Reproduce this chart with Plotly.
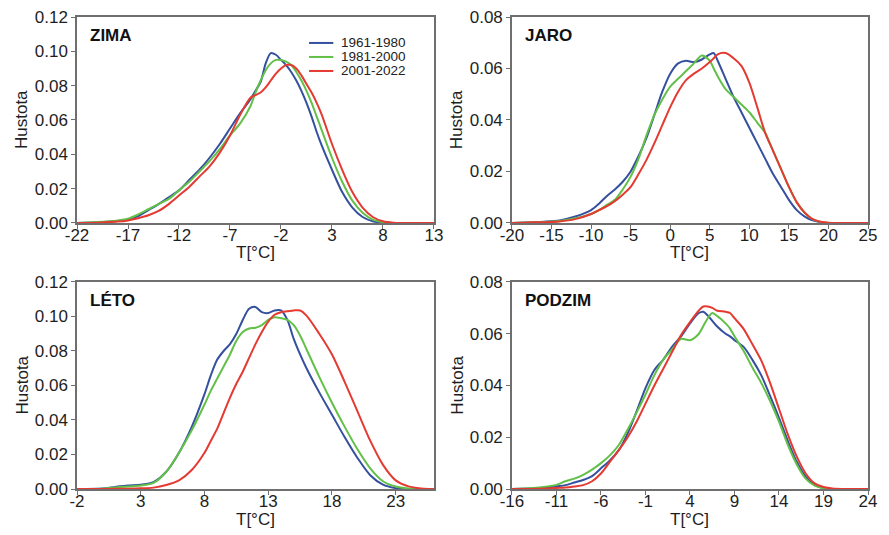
import plotly.graph_objects as go
from plotly.subplots import make_subplots

# ---------------- data ----------------
series_names = ["1961-1980", "1981-2000", "2001-2022"]
series_colors = ["#34509e", "#62c048", "#e43a32"]

# ZIMA (winter)
zima_t = [-22, -20, -18, -17, -16, -15, -14, -13, -12, -11, -10, -9, -8, -7, -6, -5, -4.5, -4,
          -3.5, -3, -2.5, -2, -1.5, -1, -0.5, 0, 0.5, 1, 1.5, 2, 3, 4, 5, 6, 7, 8, 9, 13]
zima_1961 = [0, 0.0004, 0.0012, 0.002, 0.004, 0.0075, 0.011, 0.015, 0.019, 0.025, 0.031, 0.038, 0.046,
             0.055, 0.064, 0.072, 0.077, 0.082, 0.093, 0.099, 0.098, 0.095, 0.092, 0.088, 0.083, 0.077,
             0.070, 0.062, 0.053, 0.045, 0.031, 0.018, 0.009, 0.0035, 0.001, 0.0002, 0, 0]
zima_1981 = [0, 0.0005, 0.0015, 0.0025, 0.005, 0.008, 0.011, 0.014, 0.019, 0.024, 0.030, 0.036, 0.043,
             0.051, 0.058, 0.068, 0.076, 0.083, 0.089, 0.093, 0.095, 0.095, 0.094, 0.092, 0.088, 0.083,
             0.077, 0.070, 0.062, 0.054, 0.038, 0.024, 0.013, 0.006, 0.002, 0.0005, 0, 0]
zima_2001 = [0, 0.0002, 0.0008, 0.0015, 0.0028, 0.0045, 0.007, 0.011, 0.016, 0.021, 0.027, 0.033, 0.041,
             0.051, 0.063, 0.073, 0.0745, 0.076, 0.079, 0.083, 0.087, 0.090, 0.092, 0.092, 0.090, 0.086,
             0.081, 0.076, 0.070, 0.063, 0.046, 0.031, 0.018, 0.009, 0.0035, 0.001, 0.0002, 0]

# JARO (spring)
jaro_t = [-20, -18, -16, -14, -12, -10, -9, -8, -7, -6, -5, -4, -3, -2, -1, 0, 1, 2, 3, 4, 5, 5.5, 6,
          7, 8, 9, 10, 11, 12, 13, 14, 15, 16, 17, 18, 19, 20, 22, 25]
jaro_1961 = [0, 0.0002, 0.0005, 0.001, 0.0025, 0.005, 0.0075, 0.0105, 0.013, 0.016, 0.020, 0.026, 0.033,
             0.042, 0.051, 0.058, 0.062, 0.063, 0.0625, 0.0635, 0.0655, 0.066, 0.063, 0.056, 0.049,
             0.043, 0.037, 0.031, 0.025, 0.019, 0.014, 0.009, 0.005, 0.0025, 0.001, 0.0003, 0, 0, 0]
jaro_1981 = [0, 0.0002, 0.0004, 0.0008, 0.0018, 0.0035, 0.005, 0.007, 0.009, 0.013, 0.018, 0.025, 0.034,
             0.042, 0.048, 0.053, 0.056, 0.059, 0.062, 0.065, 0.063, 0.060, 0.057, 0.052, 0.049, 0.046,
             0.043, 0.039, 0.035, 0.028, 0.021, 0.014, 0.008, 0.004, 0.0015, 0.0004, 0, 0, 0]
jaro_2001 = [0, 0.0002, 0.0003, 0.0006, 0.0015, 0.0035, 0.005, 0.0065, 0.0085, 0.011, 0.014, 0.019, 0.0245,
             0.031, 0.038, 0.045, 0.051, 0.0555, 0.058, 0.060, 0.0625, 0.064, 0.0655, 0.066, 0.064, 0.061,
             0.0545, 0.045, 0.035, 0.028, 0.021, 0.014, 0.008, 0.004, 0.0015, 0.0005, 0.0001, 0, 0]

# LÉTO (summer)
leto_t = [-2, 0, 1, 2, 3, 4, 5, 6, 7, 8, 8.5, 9, 9.5, 10, 10.5, 11, 11.5, 12, 12.5, 13, 13.5, 14, 14.5,
          15, 15.5, 16, 17, 18, 19, 20, 21, 22, 23, 24, 25, 26]
leto_1961 = [0, 0.0003, 0.0012, 0.002, 0.0025, 0.004, 0.010, 0.021, 0.036, 0.055, 0.066, 0.075, 0.080,
             0.084, 0.090, 0.098, 0.1045, 0.1055, 0.1025, 0.102, 0.1035, 0.1035, 0.098, 0.087, 0.078,
             0.070, 0.056, 0.043, 0.030, 0.018, 0.008, 0.0025, 0.0005, 0, 0, 0]
leto_1981 = [0, 0.0002, 0.0008, 0.0015, 0.002, 0.0035, 0.010, 0.021, 0.034, 0.049, 0.057, 0.064, 0.071,
             0.078, 0.086, 0.091, 0.093, 0.0935, 0.095, 0.098, 0.0995, 0.099, 0.098, 0.095, 0.089,
             0.081, 0.065, 0.050, 0.036, 0.023, 0.012, 0.0045, 0.0014, 0.0003, 0, 0]
leto_2001 = [0, 0, 0.0001, 0.0002, 0.0004, 0.0008, 0.0023, 0.005, 0.011, 0.021, 0.028, 0.035, 0.044,
             0.053, 0.061, 0.068, 0.076, 0.084, 0.091, 0.097, 0.101, 0.1025, 0.103, 0.1035, 0.1035,
             0.1005, 0.090, 0.078, 0.062, 0.045, 0.028, 0.014, 0.005, 0.0015, 0.0003, 0]

# PODZIM (autumn)
podzim_t = [-16, -14, -12, -11, -10, -9, -8, -7, -6, -5, -4, -3, -2, -1, 0, 1, 2, 3, 4, 5, 5.5, 6, 6.5,
            7, 8, 8.5, 9, 10, 11, 12, 13, 14, 15, 16, 17, 18, 19, 20, 22, 24]
podzim_1961 = [0, 0.0002, 0.0005, 0.001, 0.0015, 0.0025, 0.0035, 0.005, 0.008, 0.011, 0.015, 0.0215,
               0.030, 0.039, 0.046, 0.050, 0.055, 0.059, 0.064, 0.068, 0.0685, 0.067, 0.065, 0.063,
               0.060, 0.059, 0.0575, 0.055, 0.050, 0.044, 0.036, 0.0275, 0.0185, 0.0105, 0.0048,
               0.0016, 0.0003, 0, 0, 0]
podzim_1981 = [0, 0.0003, 0.001, 0.0016, 0.003, 0.004, 0.0055, 0.0075, 0.010, 0.013, 0.017, 0.023,
               0.0295, 0.0365, 0.044, 0.050, 0.054, 0.058, 0.0575, 0.060, 0.063, 0.066, 0.068, 0.067,
               0.064, 0.062, 0.059, 0.0535, 0.047, 0.041, 0.034, 0.026, 0.017, 0.0095, 0.004, 0.0013,
               0.0003, 0, 0, 0]
podzim_2001 = [0, 0, 0.0002, 0.0004, 0.0006, 0.001, 0.0015, 0.003, 0.006, 0.0105, 0.015, 0.020, 0.026,
               0.033, 0.040, 0.0465, 0.053, 0.0595, 0.0645, 0.069, 0.0705, 0.0705, 0.070, 0.069, 0.0685,
               0.068, 0.066, 0.062, 0.056, 0.0497, 0.041, 0.031, 0.021, 0.0125, 0.006, 0.0022, 0.0008,
               0.0002, 0, 0]

panel_titles = ["ZIMA", "JARO", "LÉTO", "PODZIM"]
zima_ticks = [-22, -17, -12, -7, -2, 3, 8, 13]
jaro_ticks = [-20, -15, -10, -5, 0, 5, 10, 15, 20, 25]
leto_ticks = [-2, 3, 8, 13, 18, 23]
podzim_ticks = [-16, -11, -6, -1, 4, 9, 14, 19, 24]
x_label = "T[°C]"
y_label = "Hustota"

panels = [
    (zima_t, [zima_1961, zima_1981, zima_2001], zima_ticks, [-22, 13], 0.12),
    (jaro_t, [jaro_1961, jaro_1981, jaro_2001], jaro_ticks, [-20, 25], 0.08),
    (leto_t, [leto_1961, leto_1981, leto_2001], leto_ticks, [-2, 26], 0.12),
    (podzim_t, [podzim_1961, podzim_1981, podzim_2001], podzim_ticks, [-16, 24], 0.08),
]

FONT = "Liberation Sans, Arial, Helvetica, sans-serif"
AXCOL = "#6f6f6f"
TXT = "#1e1e1e"

fig = make_subplots(rows=2, cols=2)
positions = [(1, 1), (1, 2), (2, 1), (2, 2)]

for (t, ys, ticks, xr, ymax), (r, c) in zip(panels, positions):
    for name, col, y in zip(series_names, series_colors, ys):
        fig.add_trace(go.Scatter(x=t, y=y, mode="lines", name=name,
                                 line=dict(color=col, width=2, shape="spline", smoothing=0.8),
                                 showlegend=False, hoverinfo="skip"), row=r, col=c)
    fig.update_xaxes(range=xr, tickvals=ticks, ticktext=[str(v) for v in ticks], row=r, col=c)
    yt = [round(i * 0.02, 2) for i in range(int(round(ymax / 0.02)) + 1)]
    fig.update_yaxes(range=[0, ymax], tickvals=yt, ticktext=["%.2f" % v for v in yt], row=r, col=c)

common = dict(showline=True, mirror=True, linecolor=AXCOL, linewidth=1.5,
              ticks="outside", ticklen=4, tickcolor=AXCOL, tickwidth=1,
              showgrid=False, zeroline=False, automargin=False, ticklabeloverflow="allow",
              tickfont=dict(family=FONT, size=17, color=TXT))
fig.update_xaxes(ticklabelstandoff=-8, **common)
fig.update_yaxes(**common)

# domains (pixel-matched)
fig.update_layout(
    xaxis=dict(domain=[0, 0.4513]), xaxis2=dict(domain=[0.5499, 1]),
    xaxis3=dict(domain=[0, 0.4513]), xaxis4=dict(domain=[0.5499, 1]),
    yaxis=dict(domain=[0.5636, 1]), yaxis2=dict(domain=[0.5636, 1]),
    yaxis3=dict(domain=[0, 0.4386]), yaxis4=dict(domain=[0, 0.4386]),
)

axis_ids = ["", "2", "3", "4"]
for title, aid in zip(panel_titles, axis_ids):
    # panel title
    fig.add_annotation(text="<b>%s</b>" % title, xref="x%s domain" % aid, yref="y%s domain" % aid,
                       x=0.03, y=0.91, xanchor="left", yanchor="middle", showarrow=False,
                       font=dict(family=FONT, size=17, color="#111"))
    # axis titles
    fig.add_annotation(text=x_label, xref="x%s domain" % aid, yref="y%s domain" % aid,
                       x=0.5, y=-0.145, xanchor="center", yanchor="middle", showarrow=False,
                       font=dict(family=FONT, size=17, color=TXT))
    fig.add_annotation(text=y_label, xref="x%s domain" % aid, yref="y%s domain" % aid,
                       x=-0.154, y=0.5, xanchor="center", yanchor="middle", textangle=-90,
                       showarrow=False, font=dict(family=FONT, size=17, color=TXT))

# legend drawn inside the first panel
leg_y = [0.874, 0.806, 0.738]
for name, col, yy in zip(series_names, series_colors, leg_y):
    fig.add_shape(type="line", xref="x domain", yref="y domain", x0=0.650, x1=0.718, y0=yy, y1=yy,
                  line=dict(color=col, width=2))
    fig.add_annotation(text=name, xref="x domain", yref="y domain", x=0.735, y=yy,
                       xanchor="left", yanchor="middle", showarrow=False,
                       font=dict(family=FONT, size=13.5, color="#222"))

# the page body adds an 8px offset, so the figure is 8px smaller and margins shifted
fig.update_layout(width=881, height=527, margin=dict(l=69, r=21, t=9, b=46, autoexpand=False),
                  paper_bgcolor="white", plot_bgcolor="white", showlegend=False,
                  font=dict(family=FONT))

fig.write_html("out.html")
